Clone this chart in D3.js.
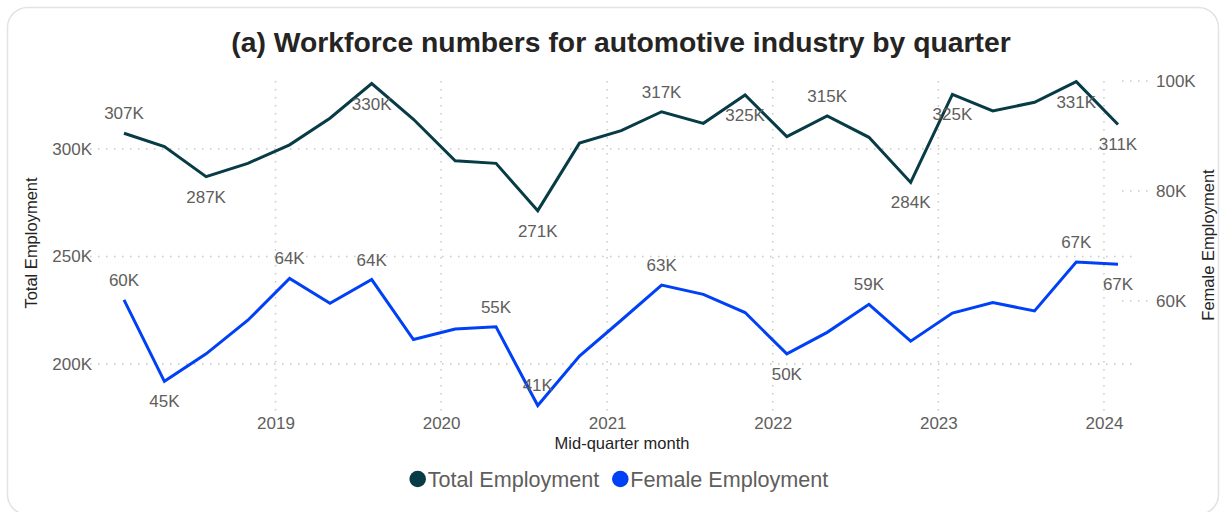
<!DOCTYPE html>
<html>
<head>
<meta charset="utf-8">
<script src="https://cdn.jsdelivr.net/npm/d3@7"></script>
<style>
  html, body { margin: 0; padding: 0; background: #fff; }
  svg { display: block; font-family: "Liberation Sans", Arial, sans-serif; }
</style>
</head>
<body>
<div id="app"></div>
<script>
// mid-quarter months (one point per quarter)
const quarters = [
  "2018-02-01", "2018-05-01", "2018-08-01", "2018-11-01",
  "2019-02-01", "2019-05-01", "2019-08-01", "2019-11-01",
  "2020-02-01", "2020-05-01", "2020-08-01", "2020-11-01",
  "2021-02-01", "2021-05-01", "2021-08-01", "2021-11-01",
  "2022-02-01", "2022-05-01", "2022-08-01", "2022-11-01",
  "2023-02-01", "2023-05-01", "2023-08-01", "2023-11-01",
  "2024-02-01"
];
const totalEmployment = [
  307300, 301100, 287100, 293300, 301900, 314300, 330400, 313800,
  294500, 293300, 271300, 302700, 308500, 317300, 311900, 325100,
  305700, 315400, 305400, 284400, 325400, 317700, 321700, 331300,
  311400
];
const femaleEmployment = [
  60200, 45400, 50400, 56500, 64100, 59600, 63900, 53000,
  54900, 55300, 41000, 50000, 56500, 62900, 61200, 57900,
  50400, 54300, 59400, 52700, 57800, 59700, 58200, 67100,
  66700
];
const yearTicks = [2019, 2020, 2021, 2022, 2023, 2024];
const totalTicks = [200000, 250000, 300000];
const femaleTicks = [60000, 80000, 100000];

// which points carry a data label: -1 above, 1 below
const totalLabels = { 0: -1, 2: 1, 6: 1, 10: 1, 13: -1, 15: 1, 17: -1, 19: 1, 20: 1, 23: 1, 24: 1 };
const femaleLabels = { 0: -1, 1: 1, 4: -1, 6: -1, 9: -1, 10: -1, 13: -1, 16: 1, 18: -1, 23: -1, 24: 1 };

const W = 1220, H = 512,
  plot = { left: 90, right: 1135, top: 81, bottom: 411 },
  totalColor = "#073b45",
  femaleColor = "#0041f5",
  textGray = "#605e5c",
  gridColor = "#c8c8c8";

const parse = d3.timeParse("%Y-%m-%d");
const dates = quarters.map(parse);

const x = d3.scaleTime()
  .domain([dates[0], dates[dates.length - 1]])
  .range([124, 1118]);
const yTotal = d3.scaleLinear().domain([178100, 331600]).range([plot.bottom, plot.top]);
const yFemale = d3.scaleLinear().domain([40000, 100000]).range([plot.bottom, plot.top]);

const fmtK = v => Math.round(v / 1000) + "K";

const svg = d3.select("#app").append("svg")
  .attr("width", W)
  .attr("height", H);

// card
svg.append("rect")
  .attr("x", 7.5).attr("y", 7.5)
  .attr("width", 1211).attr("height", 507)
  .attr("rx", 20)
  .attr("fill", "#fff")
  .attr("stroke", "#e3e3e3")
  .attr("stroke-width", 1.5);

// title
svg.append("text")
  .attr("x", 621).attr("y", 52)
  .attr("text-anchor", "middle")
  .attr("font-size", 28.3)
  .attr("font-weight", "bold")
  .attr("fill", "#252423")
  .text("(a) Workforce numbers for automotive industry by quarter");

const grid = svg.append("g")
  .attr("stroke", gridColor)
  .attr("stroke-width", 1.5)
  .attr("stroke-dasharray", "1.5,6.5");

// horizontal grid (left axis)
grid.selectAll(".hg").data(totalTicks).join("line")
  .attr("x1", plot.left).attr("x2", plot.right)
  .attr("y1", d => yTotal(d)).attr("y2", d => yTotal(d));

// short right-axis grid stubs
grid.selectAll(".rg").data(femaleTicks).join("line")
  .attr("x1", 1122).attr("x2", plot.right + 14)
  .attr("y1", d => yFemale(d)).attr("y2", d => yFemale(d));

// vertical grid at year starts
grid.selectAll(".vg").data(yearTicks).join("line")
  .attr("x1", d => x(new Date(d, 0, 1))).attr("x2", d => x(new Date(d, 0, 1)))
  .attr("y1", plot.top).attr("y2", plot.bottom + 4);

// left axis
const leftAxis = svg.append("g")
  .attr("transform", `translate(${plot.left},0)`)
  .call(d3.axisLeft(yTotal).tickValues(totalTicks).tickFormat(fmtK).tickSize(0).tickPadding(0));
leftAxis.select(".domain").remove();
leftAxis.selectAll("text")
  .attr("font-size", 17)
  .attr("fill", textGray)
  .attr("font-family", null)
  .attr("x", 2);

// right axis
const rightAxis = svg.append("g")
  .attr("transform", `translate(${plot.right},0)`)
  .call(d3.axisRight(yFemale).tickValues(femaleTicks).tickFormat(fmtK).tickSize(0).tickPadding(0));
rightAxis.select(".domain").remove();
rightAxis.selectAll("text")
  .attr("font-size", 17)
  .attr("fill", textGray)
  .attr("font-family", null)
  .attr("x", 21);

// x axis
const xAxis = svg.append("g")
  .attr("transform", `translate(0,${plot.bottom})`)
  .call(d3.axisBottom(x)
    .tickValues(yearTicks.map(y => new Date(y, 0, 1)))
    .tickFormat(d3.timeFormat("%Y"))
    .tickSize(0).tickPadding(0));
xAxis.select(".domain").remove();
xAxis.selectAll("text")
  .attr("font-size", 17)
  .attr("fill", textGray)
  .attr("font-family", null)
  .attr("y", 6);

// axis titles
svg.append("text")
  .attr("transform", "translate(37,243) rotate(-90)")
  .attr("text-anchor", "middle")
  .attr("font-size", 16.5)
  .attr("fill", "#252423")
  .text("Total Employment");

svg.append("text")
  .attr("transform", "translate(1214,245) rotate(-90)")
  .attr("text-anchor", "middle")
  .attr("font-size", 16.5)
  .attr("fill", "#252423")
  .text("Female Employment");

svg.append("text")
  .attr("x", 622).attr("y", 449)
  .attr("text-anchor", "middle")
  .attr("font-size", 16.5)
  .attr("fill", "#252423")
  .text("Mid-quarter month");

// lines
const totalLine = d3.line().x((d, i) => x(dates[i])).y(d => yTotal(d));
const femaleLine = d3.line().x((d, i) => x(dates[i])).y(d => yFemale(d));

svg.append("path")
  .datum(totalEmployment)
  .attr("d", totalLine)
  .attr("fill", "none")
  .attr("stroke", totalColor)
  .attr("stroke-width", 3)
  .attr("stroke-linejoin", "miter");

svg.append("path")
  .datum(femaleEmployment)
  .attr("d", femaleLine)
  .attr("fill", "none")
  .attr("stroke", femaleColor)
  .attr("stroke-width", 3)
  .attr("stroke-linejoin", "miter");

// data labels
function addLabels(values, scale, picks) {
  svg.append("g")
    .selectAll("text")
    .data(Object.keys(picks).map(Number))
    .join("text")
    .attr("x", i => x(dates[i]))
    .attr("y", i => scale(values[i]) + picks[i] * 20)
    .attr("dy", "0.35em")
    .attr("text-anchor", "middle")
    .attr("font-size", 17)
    .attr("fill", textGray)
    .text(i => fmtK(values[i]));
}
addLabels(totalEmployment, yTotal, totalLabels);
addLabels(femaleEmployment, yFemale, femaleLabels);

// legend
const legendItems = [
  { name: "Total Employment", color: totalColor },
  { name: "Female Employment", color: femaleColor }
];
const legend = svg.append("g");
let lx = 0;
legendItems.forEach(item => {
  const g = legend.append("g").attr("transform", `translate(${lx},0)`);
  g.append("circle").attr("cx", 8).attr("cy", 0).attr("r", 8.3).attr("fill", item.color);
  const t = g.append("text")
    .attr("x", 18).attr("y", 0).attr("dy", "0.35em")
    .attr("font-size", 21.6)
    .attr("fill", textGray)
    .text(item.name);
  lx += 18 + t.node().getComputedTextLength() + 13;
});
legend.attr("transform", `translate(${619 - (lx - 13) / 2},479)`);
</script>
</body>
</html>
